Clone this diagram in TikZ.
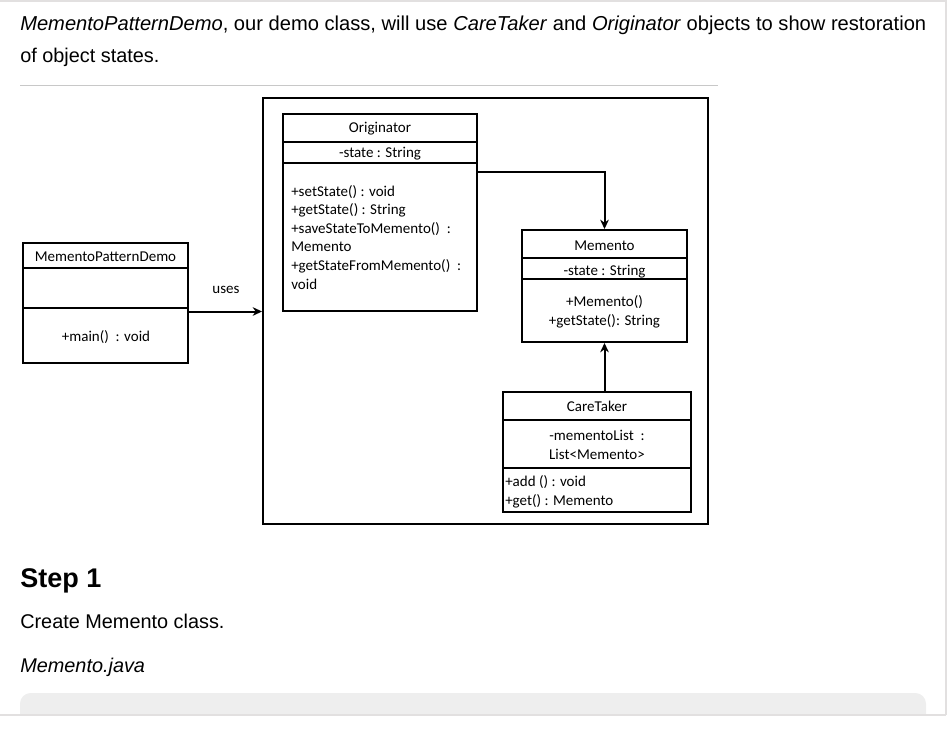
\documentclass[tikz,border=0pt]{standalone}
\usepackage{fontspec}
\setmainfont{Liberation Sans}
\newfontfamily\umlfont{Carlito}
\usetikzlibrary{arrows.meta}
\definecolor{framegray}{HTML}{E2E0E0}
\definecolor{rulegray}{HTML}{C8C8C8}
\definecolor{codebg}{HTML}{EEEEEE}

\begin{document}
\begin{tikzpicture}[x=0.75pt,y=-0.75pt,
  umlbox/.style={draw,line width=1.5pt,inner sep=0pt},
  umlsep/.style={line width=1.5pt},
  umltext/.style={font=\umlfont\fontsize{11.25}{13.9}\selectfont,inner sep=0pt,anchor=base},
  bodytext/.style={font=\fontsize{14.9}{18}\selectfont,inner sep=0pt,anchor=base west},
  link/.style={line width=1.5pt,-{Stealth[length=7pt,width=6.5pt]}}]
\useasboundingbox (0,0) rectangle (948,742);
\draw[framegray,line width=1.5pt] (0,1) -- (946,1);
\draw[framegray,line width=1.5pt] (945.5,0) -- (945.5,715);
\fill[codebg] (20,715) {[rounded corners=8] -- (20,693) -- (926,693)} -- (926,715) -- cycle;
\draw[framegray,line width=1.5pt] (0,715) -- (946,715);

\node[bodytext,font=\fontsize{15.1}{18}\selectfont] (intro1) at (20,31) {\textit{MementoPatternDemo}, our demo class, will use \textit{CareTaker} and \textit{Originator} objects to show restoration};
\node[bodytext] (intro2) at (20,63) {of object states.};
\draw[rulegray,line width=0.75pt] (20,85) -- (718,85);

\node[umlbox,minimum width=333.75pt,minimum height=319.5pt] (frame) at (485.5,311) {};

\node[umlbox,minimum width=145.5pt,minimum height=147.75pt] (orig) at (380,212.5) {};
\draw[umlsep] (orig.west |- 0,142) -- (orig.east |- 0,142);
\draw[umlsep] (orig.west |- 0,163) -- (orig.east |- 0,163);
\node[umltext] (orig name) at (380,132.5) {Originator};
\node[umltext] (orig attr) at (380,157) {-state : String};
\node[umltext,anchor=base west,align=left] (orig ops) at (291,289) {+setState() : void\\+getState() : String\\+saveStateToMemento() \ :\\Memento\\+getStateFromMemento() \ :\\void};

\node[umlbox,minimum width=123.75pt,minimum height=84pt] (mem) at (604.5,286) {};
\draw[umlsep] (mem.west |- 0,258) -- (mem.east |- 0,258);
\draw[umlsep] (mem.west |- 0,279) -- (mem.east |- 0,279);
\node[umltext] (mem name) at (604.5,250) {Memento};
\node[umltext] (mem attr) at (604.5,275) {-state : String};
\node[umltext,align=center] (mem ops) at (604.5,325) {+Memento()\\+getState(): String};

\node[umlbox,minimum width=141pt,minimum height=90pt] (care) at (597,452) {};
\draw[umlsep] (care.west |- 0,420) -- (care.east |- 0,420);
\draw[umlsep] (care.west |- 0,468) -- (care.east |- 0,468);
\node[umltext] (care name) at (597,411) {CareTaker};
\node[umltext,align=center] (care attr) at (597,459) {-mementoList \ :\\List<Memento>};
\node[umltext,anchor=base west,align=left] (care ops) at (505,505) {+add () : void\\+get() : Memento};

\node[umlbox,minimum width=123.75pt,minimum height=90pt] (demo) at (105.5,303) {};
\draw[umlsep] (demo.west |- 0,268) -- (demo.east |- 0,268);
\draw[umlsep] (demo.west |- 0,308) -- (demo.east |- 0,308);
\node[umltext] (demo name) at (105.5,261) {MementoPatternDemo};
\node[umltext] (demo ops) at (106,341) {+main() \ : void};

\draw[link] (demo.east |- 0,311.5) -- (frame.west |- 0,311.5);
\node[umltext] (uses) at (226,293) {uses};
\draw[link] (orig.east |- 0,172) -| (mem.north);
\draw[link] (care.north -| mem.south) -- (mem.south);

\node[bodytext,font=\bfseries\fontsize{20.25}{24}\selectfont] (step) at (20,587) {Step 1};
\node[bodytext] (create) at (20,628) {Create Memento class.};
\node[bodytext] (file) at (20,672) {\textit{Memento.java}};
\end{tikzpicture}
\end{document}
